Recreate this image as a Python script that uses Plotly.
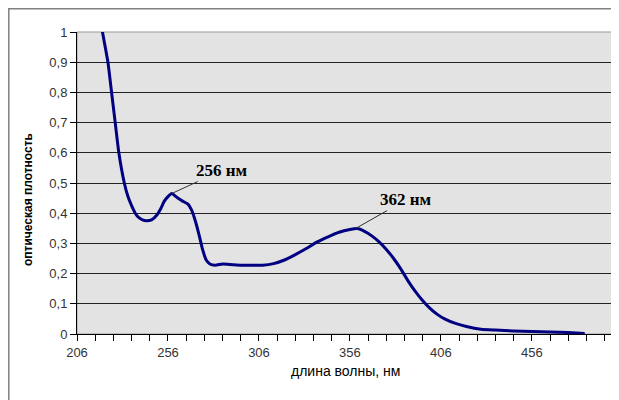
import plotly.graph_objects as go

wavelength = [216, 220, 223, 225, 227, 229, 232, 234, 236, 238, 240, 242, 244, 247, 250, 252,
              254, 256, 258, 261, 264, 267, 269, 271, 273, 275, 277, 279, 282, 286, 290, 296,
              302, 308, 314, 320, 326, 332, 338, 344, 350, 356, 360, 364, 368, 372, 376, 380,
              384, 388, 392, 396, 400, 404, 408, 414, 420, 428, 436, 446, 456, 466, 476, 485]
absorbance = [1.15, 1.0, 0.9, 0.8, 0.7, 0.6, 0.5, 0.455, 0.425, 0.4, 0.385, 0.378, 0.375, 0.378, 0.395, 0.415,
              0.44, 0.455, 0.465, 0.452, 0.44, 0.43, 0.41, 0.375, 0.33, 0.28, 0.245, 0.232, 0.228, 0.232, 0.23, 0.228,
              0.228, 0.228, 0.233, 0.245, 0.263, 0.283, 0.305, 0.322, 0.337, 0.346, 0.349, 0.34, 0.325, 0.305, 0.28, 0.25,
              0.215, 0.175, 0.14, 0.11, 0.085, 0.065, 0.05, 0.035, 0.025, 0.016, 0.013, 0.01, 0.008, 0.007, 0.005, 0.002]

peak_labels = ["256 нм", "362 нм"]
peak_x = [258, 359]
peak_y = [0.465, 0.349]

# page has an 8px body margin: build the figure 8px smaller and work in page pixels
OFF = 8
W, H = 619 - OFF, 400 - OFF
L, R, T, B = 77 - OFF, 7, 32 - OFF, 66
pw, ph = W - L - R, H - T - B

def px(x):
    return (x - OFF - L) / pw

def py(y):
    return (H - B - (y - OFF)) / ph

fig = go.Figure()
fig.add_trace(go.Scatter(x=wavelength, y=absorbance, mode="lines",
                         line=dict(color="#000080", width=3, shape="spline", smoothing=0.5),
                         hoverinfo="skip"))

annotations = []
offsets = [(50, -23), (51, -29)]
for lab, xv, yv, (ax, ay) in zip(peak_labels, peak_x, peak_y, offsets):
    annotations.append(dict(x=xv, y=yv, xref="x", yref="y", text="<b>" + lab + "</b>",
                            showarrow=True, arrowhead=0, arrowwidth=1, arrowcolor="#333",
                            ax=ax, ay=ay,
                            font=dict(family="Liberation Serif", size=17, color="black")))
annotations.append(dict(x=px(19), y=py(200), xref="paper", yref="paper",
                        text="<b>оптическая плотность</b>", textangle=-90, showarrow=False,
                        font=dict(family="Liberation Sans", size=12, color="black")))
annotations.append(dict(x=px(345), y=py(381), xref="paper", yref="paper",
                        text="длина волны, нм", showarrow=False,
                        font=dict(family="Liberation Sans", size=14, color="black")))

shapes = [
    dict(type="rect", xref="paper", yref="paper", x0=px(8.8), x1=px(640), y0=py(420), y1=py(8.8),
         line=dict(color="#808080", width=1.5), layer="below"),
    dict(type="rect", xref="paper", yref="paper", x0=0, x1=1, y0=0, y1=1,
         line=dict(color="#999999", width=1), layer="below"),
]

fig.update_layout(
    width=W, height=H,
    margin=dict(l=L, r=R, t=T, b=B),
    paper_bgcolor="white", plot_bgcolor="#e3e3e3",
    separators=", ",
    showlegend=False,
    annotations=annotations,
    shapes=shapes,
    font=dict(family="Liberation Sans", size=13, color="#222"),
)
fig.update_xaxes(range=[206, 500], tick0=206, dtick=50, ticks="outside", ticklen=6,
                 tickcolor="black", showgrid=False, zeroline=False,
                 showline=True, linecolor="black", linewidth=1,
                 minor=dict(tick0=206, dtick=10, ticks="outside", ticklen=6, tickcolor="black"),
                 tickfont=dict(size=13, color="#333"))
fig.update_yaxes(range=[0, 1], dtick=0.1, ticks="outside", ticklen=6, tickcolor="black",
                 showgrid=True, gridcolor="#222", gridwidth=1, zeroline=False,
                 showline=True, linecolor="black", linewidth=1,
                 tickfont=dict(size=13, color="#333"))

fig.write_html("out.html")
